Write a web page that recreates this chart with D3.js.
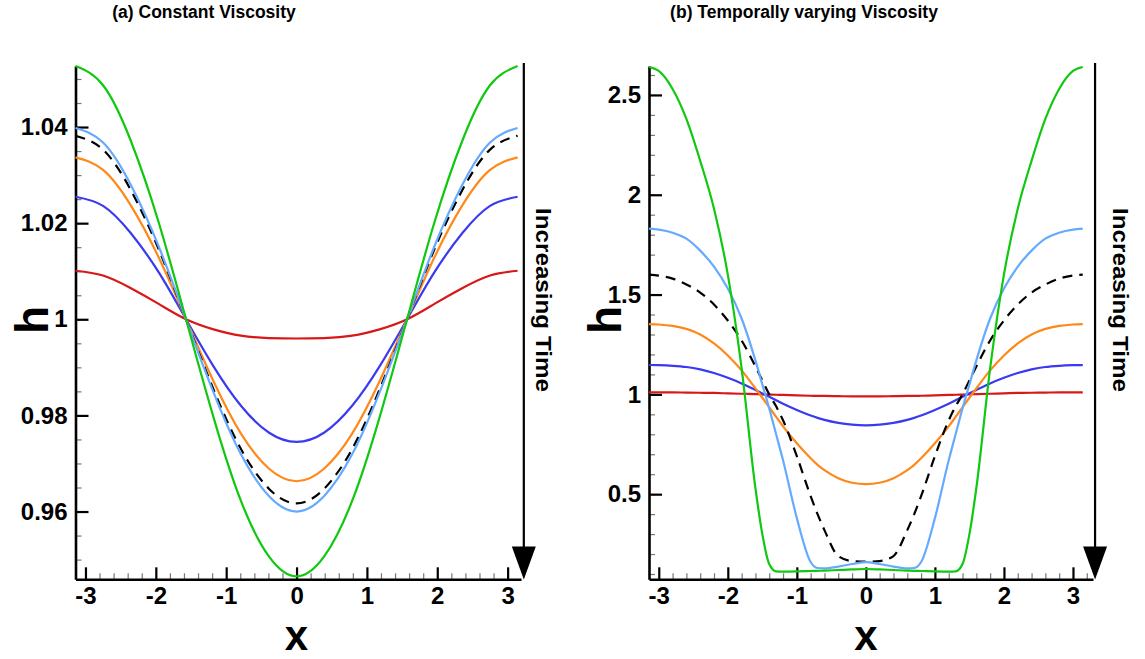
<!DOCTYPE html>
<html>
<head>
<meta charset="utf-8">
<script src="https://cdn.jsdelivr.net/npm/d3@7"></script>
<style>
  body { margin: 0; background: #fff; }
  svg text { font-family: "Liberation Sans", Arial, sans-serif; font-weight: bold; }
</style>
</head>
<body>
<div id="chart"></div>
<script>
// h(x) profiles at increasing times

// panel (a) constant viscosity
var xA = [-3.1416, -2.75, -2.36, -1.96, -1.5708, -1.18, -0.79, -0.39, 0, 0.39, 0.79, 1.18, 1.5708, 1.96, 2.36, 2.75, 3.1416];
var redA    = [1.0101, 1.0091, 1.0065, 1.0032, 1.0, 0.9979, 0.9966, 0.9961, 0.9960, 0.9961, 0.9966, 0.9979, 1.0, 1.0032, 1.0065, 1.0091, 1.0101];
var blueA   = [1.0255, 1.0236, 1.0180, 1.0098, 1.0, 0.9902, 0.9820, 0.9764, 0.9745, 0.9764, 0.9820, 0.9902, 1.0, 1.0098, 1.0180, 1.0236, 1.0255];
var orangeA = [1.0337, 1.0311, 1.0238, 1.0129, 1.0, 0.9871, 0.9762, 0.9689, 0.9663, 0.9689, 0.9762, 0.9871, 1.0, 1.0129, 1.0238, 1.0311, 1.0337];
var dashA   = [1.0382, 1.0353, 1.0270, 1.0146, 1.0, 0.9854, 0.9730, 0.9647, 0.9617, 0.9647, 0.9730, 0.9854, 1.0, 1.0146, 1.0270, 1.0353, 1.0382];
var lblueA  = [1.0398, 1.0368, 1.0281, 1.0152, 1.0, 0.9848, 0.9719, 0.9632, 0.9600, 0.9632, 0.9719, 0.9848, 1.0, 1.0152, 1.0281, 1.0368, 1.0398];
var greenA  = [1.0527, 1.0487, 1.0373, 1.0202, 1.0, 0.9796, 0.9622, 0.9506, 0.9465, 0.9506, 0.9622, 0.9796, 1.0, 1.0202, 1.0373, 1.0487, 1.0527];

// panel (b) temporally varying viscosity
var xB = [-3.1416, -3.0, -2.8, -2.6, -2.4, -2.2, -2.0, -1.8, -1.6, -1.5, -1.4, -1.3, -1.2, -1.0, -0.8, -0.7, -0.6, -0.4, -0.2, 0,
          0.2, 0.4, 0.6, 0.7, 0.8, 1.0, 1.2, 1.3, 1.4, 1.5, 1.6, 1.8, 2.0, 2.2, 2.4, 2.6, 2.8, 3.0, 3.1416];
var redB    = [1.010,1.010,1.010,1.009,1.008,1.007,1.005,1.003,1.001,1.000,0.999,0.998,0.997,0.995,0.993,0.992,0.992,0.991,0.990, 0.990,
               0.990,0.991,0.992,0.992,0.993,0.995,0.997,0.998,0.999,1.000,1.001,1.003,1.005,1.007,1.008,1.009,1.010,1.010,1.010];
var blueB   = [1.147,1.146,1.143,1.137,1.125,1.107,1.083,1.055,1.022,1.005,0.988,0.970,0.953,0.922,0.894,0.882,0.872,0.857,0.848, 0.845,
               0.848,0.857,0.872,0.882,0.894,0.922,0.953,0.970,0.988,1.005,1.022,1.055,1.083,1.107,1.125,1.137,1.143,1.146,1.147];
var orangeB = [1.352,1.350,1.343,1.328,1.300,1.255,1.195,1.120,1.030,0.983,0.935,0.887,0.840,0.755,0.680,0.647,0.620,0.580,0.557, 0.550,
               0.557,0.580,0.620,0.647,0.680,0.755,0.840,0.887,0.935,0.983,1.030,1.120,1.195,1.255,1.300,1.328,1.343,1.350,1.352];
var dashB   = [1.600,1.595,1.580,1.550,1.510,1.450,1.370,1.270,1.140,1.070,1.000,0.940,0.870,0.690,0.490,0.400,0.320,0.190,0.165, 0.162,
               0.165,0.190,0.320,0.400,0.490,0.690,0.870,0.940,1.000,1.070,1.140,1.270,1.370,1.450,1.510,1.550,1.580,1.595,1.600];
var lblueB  = [1.830,1.825,1.810,1.780,1.720,1.640,1.530,1.380,1.170,1.050,0.930,0.800,0.670,0.380,0.160,0.130,0.128,0.137,0.150, 0.160,
               0.150,0.137,0.128,0.130,0.160,0.380,0.670,0.800,0.930,1.050,1.170,1.380,1.530,1.640,1.720,1.780,1.810,1.825,1.830];
var greenB  = [2.640,2.620,2.530,2.380,2.170,1.930,1.600,1.130,0.530,0.300,0.150,0.113,0.112,0.113,0.115,0.116,0.117,0.120,0.123, 0.125,
               0.123,0.120,0.117,0.116,0.115,0.113,0.112,0.113,0.150,0.300,0.530,1.130,1.600,1.930,2.170,2.380,2.530,2.620,2.640];

// ticks
var xTicks = [-3, -2, -1, 0, 1, 2, 3];
var yTicksA = [0.96, 0.98, 1.0, 1.02, 1.04];
var yTicksB = [0.5, 1.0, 1.5, 2.0, 2.5];
var titles = ["(a) Constant Viscosity", "(b) Temporally varying Viscosity"];

var width = 1145, height = 659;
var svg = d3.select("#chart").append("svg")
    .attr("width", width)
    .attr("height", height);

// plain hyphen for negatives, like the original plot
function fmt(d) { return String(+(+d).toFixed(2)); }

function drawPanel(p) {
    var g = svg.append("g");
    var x = d3.scaleLinear().domain(p.xDomain).range(p.xRange);
    var y = d3.scaleLinear().domain(p.yDomain).range([579.3, 66]);

    // minor ticks
    var xMinor = d3.range(-3.0, p.xDomain[1], 0.2).filter(function(v){ return Math.abs(v - Math.round(v)) > 0.01; });
    g.append("g").attr("class", "minor")
        .attr("transform", "translate(0,579.3)")
        .call(d3.axisBottom(x).tickValues(xMinor).tickSize(-6).tickSizeOuter(0).tickFormat(""));
    var yMinor = d3.range(p.yDomain[0], p.yDomain[1], p.yMinorStep)
        .map(function(v){ return Math.ceil(v / p.yMinorStep - 1e-6) * p.yMinorStep; })
        .filter(function(v){ return v <= p.yDomain[1]; });
    g.append("g").attr("class", "minor")
        .attr("transform", "translate(" + p.xRange[0] + ",0)")
        .call(d3.axisLeft(y).tickValues(yMinor).tickSize(-6).tickSizeOuter(0).tickFormat(""));
    g.selectAll(".minor path").remove();
    g.selectAll(".minor line").attr("stroke", "#777").attr("stroke-width", 1.2);

    // major axes
    var xAxis = g.append("g")
        .attr("transform", "translate(0,579.3)")
        .call(d3.axisBottom(x).tickValues(xTicks).tickSize(-12).tickSizeOuter(0).tickPadding(8).tickFormat(fmt));
    var yAxis = g.append("g")
        .attr("transform", "translate(" + p.xRange[0] + ",0)")
        .call(d3.axisLeft(y).tickValues(p.yTicks).tickSize(-13).tickSizeOuter(0).tickPadding(8).tickFormat(fmt));
    [xAxis, yAxis].forEach(function(a){
        a.select(".domain").attr("stroke", "#000").attr("stroke-width", 2.6);
        a.selectAll(".tick line").attr("stroke", "#000").attr("stroke-width", 2.2);
        a.selectAll("text").attr("font-size", 24).attr("fill", "#000")
            .style("font-family", "'Liberation Sans', Arial, sans-serif").style("font-weight", "bold");
    });

    // curves
    var line = d3.line()
        .x(function(d){ return x(d[0]); })
        .y(function(d){ return y(d[1]); })
        .curve(p.curve);
    p.series.forEach(function(s){
        g.append("path")
            .datum(p.xs.map(function(v, i){ return [v, s.values[i]]; }))
            .attr("d", line)
            .attr("fill", "none")
            .attr("stroke", s.color)
            .attr("stroke-width", 2.2)
            .attr("stroke-dasharray", s.dash || null);
    });

    // "Increasing Time" arrow
    var ax = x(p.arrowX);
    g.append("line")
        .attr("x1", ax).attr("x2", ax)
        .attr("y1", 63).attr("y2", 550)
        .attr("stroke", "#000").attr("stroke-width", 2.2);
    g.append("path")
        .attr("d", "M" + (ax - 12) + ",546.5 L" + (ax + 12) + ",546.5 L" + ax + ",579.5 Z")
        .attr("fill", "#000");
    g.append("text")
        .attr("transform", "translate(" + (ax + p.labelOffset) + ",300) rotate(90)")
        .attr("text-anchor", "middle")
        .attr("font-size", 22)
        .attr("textLength", 184)
        .attr("lengthAdjust", "spacingAndGlyphs")
        .text("Increasing Time");

    // axis titles
    g.append("text")
        .attr("x", x(0)).attr("y", 650)
        .attr("text-anchor", "middle")
        .attr("font-size", 42)
        .text("x");
    g.append("text")
        .attr("transform", "translate(" + (p.xRange[0] - 28) + ",320) rotate(-90)")
        .attr("text-anchor", "middle")
        .attr("font-size", 46)
        .text("h");

    g.append("text")
        .attr("x", p.titleX).attr("y", 18)
        .attr("text-anchor", "middle")
        .attr("font-size", 17.5)
        .text(p.title);
}

drawPanel({
    xs: xA,
    xDomain: [-3.1416, 3.19], xRange: [75.5, 521],
    yDomain: [0.9459, 1.0527], yTicks: yTicksA, yMinorStep: 0.005,
    curve: d3.curveNatural,
    arrowX: 3.23, labelOffset: 12,
    title: titles[0], titleX: 204,
    series: [
        {values: redA, color: "#d81818"},
        {values: blueA, color: "#3a3af0"},
        {values: orangeA, color: "#ff8818"},
        {values: dashA, color: "#000", dash: "10,7"},
        {values: lblueA, color: "#66aaff"},
        {values: greenA, color: "#10c810"}
    ]
});

drawPanel({
    xs: xB,
    xDomain: [-3.1416, 3.29], xRange: [649, 1093],
    yDomain: [0.0735, 2.645], yTicks: yTicksB, yMinorStep: 0.1,
    curve: d3.curveMonotoneX,
    arrowX: 3.32, labelOffset: 18,
    title: titles[1], titleX: 804,
    series: [
        {values: redB, color: "#d81818"},
        {values: blueB, color: "#3a3af0"},
        {values: orangeB, color: "#ff8818"},
        {values: dashB, color: "#000", dash: "10,7"},
        {values: lblueB, color: "#66aaff"},
        {values: greenB, color: "#10c810"}
    ]
});
</script>
</body>
</html>
